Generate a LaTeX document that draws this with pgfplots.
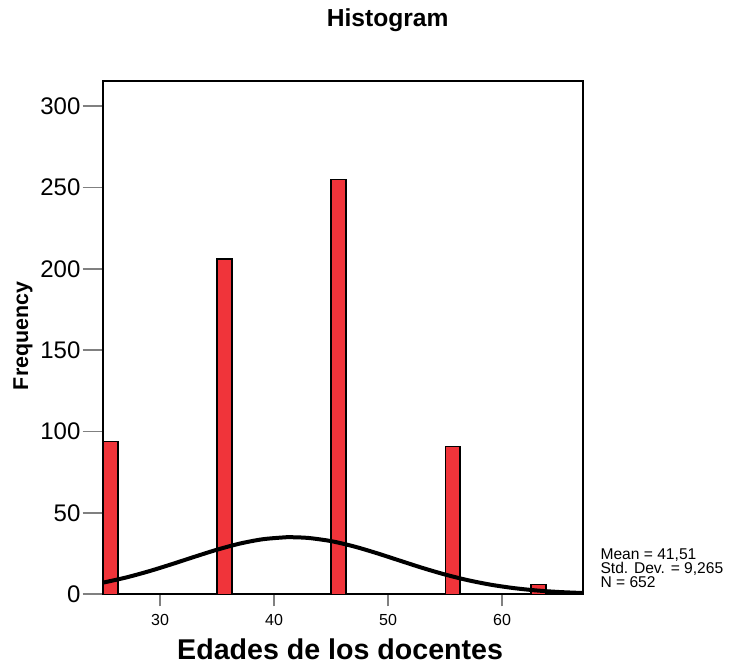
\documentclass[border=0pt]{standalone}
\usepackage{pgfplots}
\pgfplotsset{compat=1.18}
\usepackage{fontspec}
\setmainfont{Liberation Sans}
\definecolor{barred}{RGB}{240,52,58}

\begin{document}
\begin{tikzpicture}
  \begin{axis}[
    at={(0,0)}, anchor=south west,
    scale only axis,
    width=240.3pt, height=256.8pt,
    xmin=24.97, xmax=67.13,
    ymin=0, ymax=315.7,
    clip mode=individual,
    axis line style={line width=1pt},
    xtick={30,40,50,60},
    ytick={0,50,100,150,200,250,300},
    tick align=outside,
    xtick pos=bottom, ytick pos=left,
    xtick style={line width=0.8pt, /pgfplots/major tick length=6pt},
    ytick style={line width=0.8pt, /pgfplots/major tick length=10pt},
    /pgf/number format/assume math mode=true,
    xticklabel style={font=\fontsize{8}{9}\selectfont, yshift=-2pt},
    yticklabel style={font=\fontsize{12}{14}\selectfont, inner sep=1pt, xshift=-5.7pt},
    title={Histogram},
    every axis title/.style={font=\fontsize{12.3}{14}\selectfont\bfseries,
      at={(axis description cs:0.593,1.118)}, anchor=center},
    xlabel={Edades de los docentes},
    xlabel style={font=\fontsize{14.3}{16}\selectfont\bfseries,
      at={(axis description cs:0.494,-0.072)}, anchor=north},
    ylabel={Frequency},
    ylabel style={font=\fontsize{10.7}{12}\selectfont\bfseries,
      at={(axis description cs:-0.166,0.503)}, anchor=center},
  ]

  % histogram bins (zero-height gaps between them)
  \addplot[ybar interval, fill=barred, draw=black, line width=0.7pt]
    coordinates {
      (25.0,94) (26.3,0)
      (35.0,206) (36.3,0)
      (45.0,255) (46.3,0)
      (55.05,91) (56.3,0)
      (62.55,6) (63.85,0)
    };

  % normal curve
  \addplot[black, line width=2pt, smooth] coordinates {
    (25,7.17) (27,10.29) (29,14.10) (31,18.44) (33,23.01) (35,27.41)
    (37,31.17) (39,33.83) (41,35.04) (41.51,35.09) (43,34.64) (45,32.69)
    (47,29.44) (49,25.31) (51,20.77) (53,16.26) (55,12.16) (57,8.68)
    (59,5.91) (61,3.84) (63,2.38) (65,1.41) (67,0.80) (67.13,0.77)
  };

  \node[anchor=north west, inner sep=0pt, align=left,
        font=\fontsize{7.8}{7}\selectfont]
    at (axis description cs:1.035,0.0896)
    {Mean = 41,51\\Std. Dev. = 9,265\\N = 652};
  \end{axis}

  % page extent (reference is 732 x 661 px at 0.5pt per px)
  \path (-51.35pt,297.15pt) rectangle (314.65pt,-33.35pt);
\end{tikzpicture}
\end{document}
